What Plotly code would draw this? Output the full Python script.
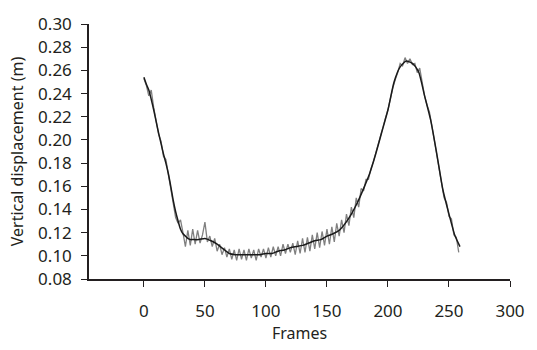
import plotly.graph_objects as go

# Smoothed curve (black)
smooth_frames = [0, 2, 4, 6, 8, 10, 12, 14, 16, 18, 20, 22, 24, 26, 28, 30, 32, 34, 36, 38,
                 40, 45, 50, 55, 60, 65, 70, 75, 80, 85, 90, 95, 100, 105, 110, 115, 120,
                 125, 130, 135, 140, 145, 150, 155, 160, 165, 170, 175, 180, 185, 190, 195,
                 200, 205, 210, 215, 220, 225, 230, 235, 240, 245, 250, 255, 259]
smooth_values = [0.254, 0.248, 0.243, 0.235, 0.226, 0.216, 0.206, 0.197, 0.188, 0.180, 0.171,
                 0.160, 0.148, 0.138, 0.130, 0.123, 0.119, 0.117, 0.115, 0.114,
                 0.114, 0.114, 0.115, 0.113, 0.110, 0.106, 0.102, 0.101, 0.101, 0.101, 0.101,
                 0.101, 0.102, 0.102, 0.104, 0.105, 0.107, 0.108, 0.109, 0.111, 0.113, 0.114,
                 0.117, 0.119, 0.122, 0.128, 0.136, 0.146, 0.158, 0.171, 0.188, 0.207,
                 0.226, 0.250, 0.263, 0.268, 0.266, 0.259, 0.238, 0.217, 0.188, 0.157,
                 0.136, 0.117, 0.108]

# Raw measurement (grey)
raw_frames = list(range(0, 260, 2))
raw_values = [0.253, 0.247, 0.238, 0.243, 0.228, 0.218, 0.205, 0.199, 0.186, 0.183,
              0.170, 0.161, 0.146, 0.133, 0.128, 0.131, 0.120, 0.108, 0.122, 0.109,
              0.123, 0.110, 0.122, 0.111, 0.118, 0.129, 0.112, 0.117, 0.108, 0.115,
              0.104, 0.110, 0.101, 0.107, 0.099, 0.106, 0.097, 0.105, 0.096, 0.106,
              0.097, 0.105, 0.096, 0.106, 0.098, 0.105, 0.096, 0.106, 0.099, 0.106,
              0.098, 0.107, 0.099, 0.108, 0.100, 0.108, 0.100, 0.110, 0.102, 0.110,
              0.103, 0.111, 0.101, 0.113, 0.102, 0.115, 0.103, 0.116, 0.104, 0.118,
              0.106, 0.120, 0.107, 0.121, 0.109, 0.123, 0.110, 0.125, 0.112, 0.128,
              0.117, 0.131, 0.120, 0.136, 0.126, 0.142, 0.133, 0.150, 0.142, 0.158,
              0.156, 0.166, 0.166, 0.175, 0.181, 0.189, 0.196, 0.203, 0.212, 0.219,
              0.226, 0.236, 0.245, 0.252, 0.258, 0.266, 0.264, 0.271, 0.266, 0.270,
              0.265, 0.266, 0.258, 0.262, 0.248, 0.238, 0.230, 0.224, 0.212, 0.200,
              0.188, 0.177, 0.164, 0.150, 0.146, 0.134, 0.132, 0.118, 0.116, 0.103]

x_ticks = [0, 50, 100, 150, 200, 250, 300]
y_ticks = [0.08, 0.10, 0.12, 0.14, 0.16, 0.18, 0.20, 0.22, 0.24, 0.26, 0.28, 0.30]

text_color = "#231f20"
font_family = "Noto Sans"

fig = go.Figure()
fig.add_trace(go.Scatter(x=raw_frames, y=raw_values, mode="lines",
                         line=dict(color="#808080", width=1.3), showlegend=False))
fig.add_trace(go.Scatter(x=smooth_frames, y=smooth_values, mode="lines",
                         line=dict(color="#1a1a1a", width=1.5, shape="spline", smoothing=0.6),
                         showlegend=False))

fig.update_layout(
    width=537, height=350,
    margin=dict(l=89, r=14, t=16, b=66),
    paper_bgcolor="white", plot_bgcolor="white",
    font=dict(family=font_family, size=17, color=text_color),
    xaxis=dict(range=[-45, 300], tickvals=x_ticks, ticktext=[str(v) for v in x_ticks],
               showgrid=False, zeroline=False, showline=True, linecolor=text_color,
               linewidth=1.5, ticks="outside", ticklen=6, tickwidth=1.3,
               tickcolor=text_color, ticklabelstandoff=10, ticklabeloverflow="allow",
               title=dict(text="Frames", font=dict(size=16), standoff=5)),
    yaxis=dict(range=[0.08, 0.30], tickvals=y_ticks,
               ticktext=["%.2f" % v for v in y_ticks],
               showgrid=False, zeroline=False, showline=True, linecolor=text_color,
               linewidth=1.5, ticks="outside", ticklen=6, tickwidth=1.3,
               tickcolor=text_color, ticklabelstandoff=6, ticklabeloverflow="allow",
               title=dict(text="Vertical displacement (m)", font=dict(size=16), standoff=11)),
)

fig.write_html("out.html",
               config={"displayModeBar": False},
               post_script="document.body.style.margin='0px';document.body.style.overflow='hidden';")
